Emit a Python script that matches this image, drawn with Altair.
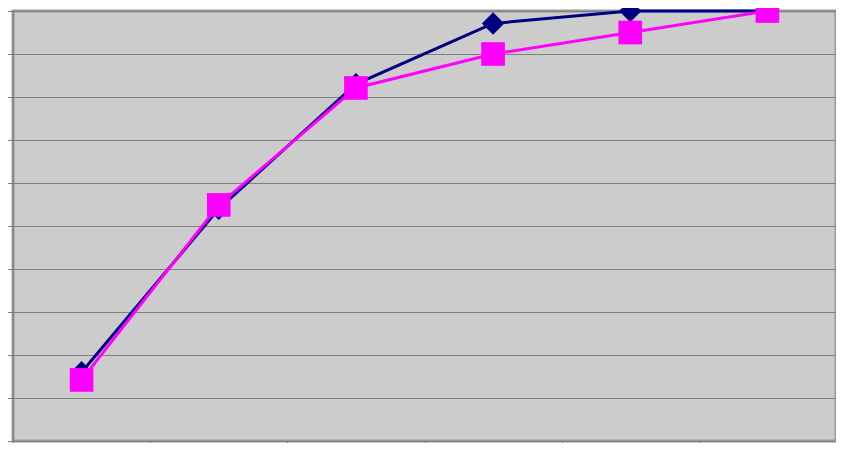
import altair as alt
import pandas as pd

categories = ["1", "2", "3", "4", "5", "6"]
series_a = [16.0, 54.0, 83.0, 97.1, 100.0, 100.0]
series_b = [14.2, 54.9, 82.1, 90.0, 95.0, 100.0]

df_a = pd.DataFrame({"cat": categories, "val": series_a})
df_b = pd.DataFrame({"cat": categories, "val": series_b})

x_enc = alt.X(
    "cat:O",
    sort=categories,
    scale=alt.Scale(type="band", paddingInner=0, paddingOuter=0),
    axis=alt.Axis(
        title=None, labels=False, tickBand="extent", tickSize=11,
        tickColor="#808080", domainColor="#808080", domainWidth=1, grid=False,
    ),
)
y_enc = alt.Y(
    "val:Q",
    scale=alt.Scale(domain=[0, 100], nice=False, zero=True),
    axis=alt.Axis(
        title=None, labels=False, values=list(range(0, 101, 10)), tickSize=11,
        tickColor="#808080", domainColor="#808080", domainWidth=1,
        grid=True, gridColor="#808080", gridWidth=1,
    ),
)

line_a = alt.Chart(df_a).mark_line(color="#000080", strokeWidth=3).encode(x=x_enc, y=y_enc)
pts_a = alt.Chart(df_a).mark_point(
    shape="diamond", filled=True, color="#000080", size=500, opacity=1
).encode(x=x_enc, y=y_enc)
line_b = alt.Chart(df_b).mark_line(color="#FF00FF", strokeWidth=3).encode(x=x_enc, y=y_enc)
pts_b = alt.Chart(df_b).mark_point(
    shape="square", filled=True, color="#FF00FF", size=560, opacity=1
).encode(x=x_enc, y=y_enc)

chart = (
    alt.layer(line_a, pts_a, line_b, pts_b)
    .properties(
        width=823,
        height=430,
        autosize=alt.AutoSizeParams(type="none"),
        padding={"left": 5, "top": 3, "right": 0, "bottom": 2},
        background="white",
    )
    .configure_view(fill="#CCCCCC", stroke="#999999", strokeWidth=3)
)

chart.save("out.html", embed_options={"renderer": "svg", "actions": False})
